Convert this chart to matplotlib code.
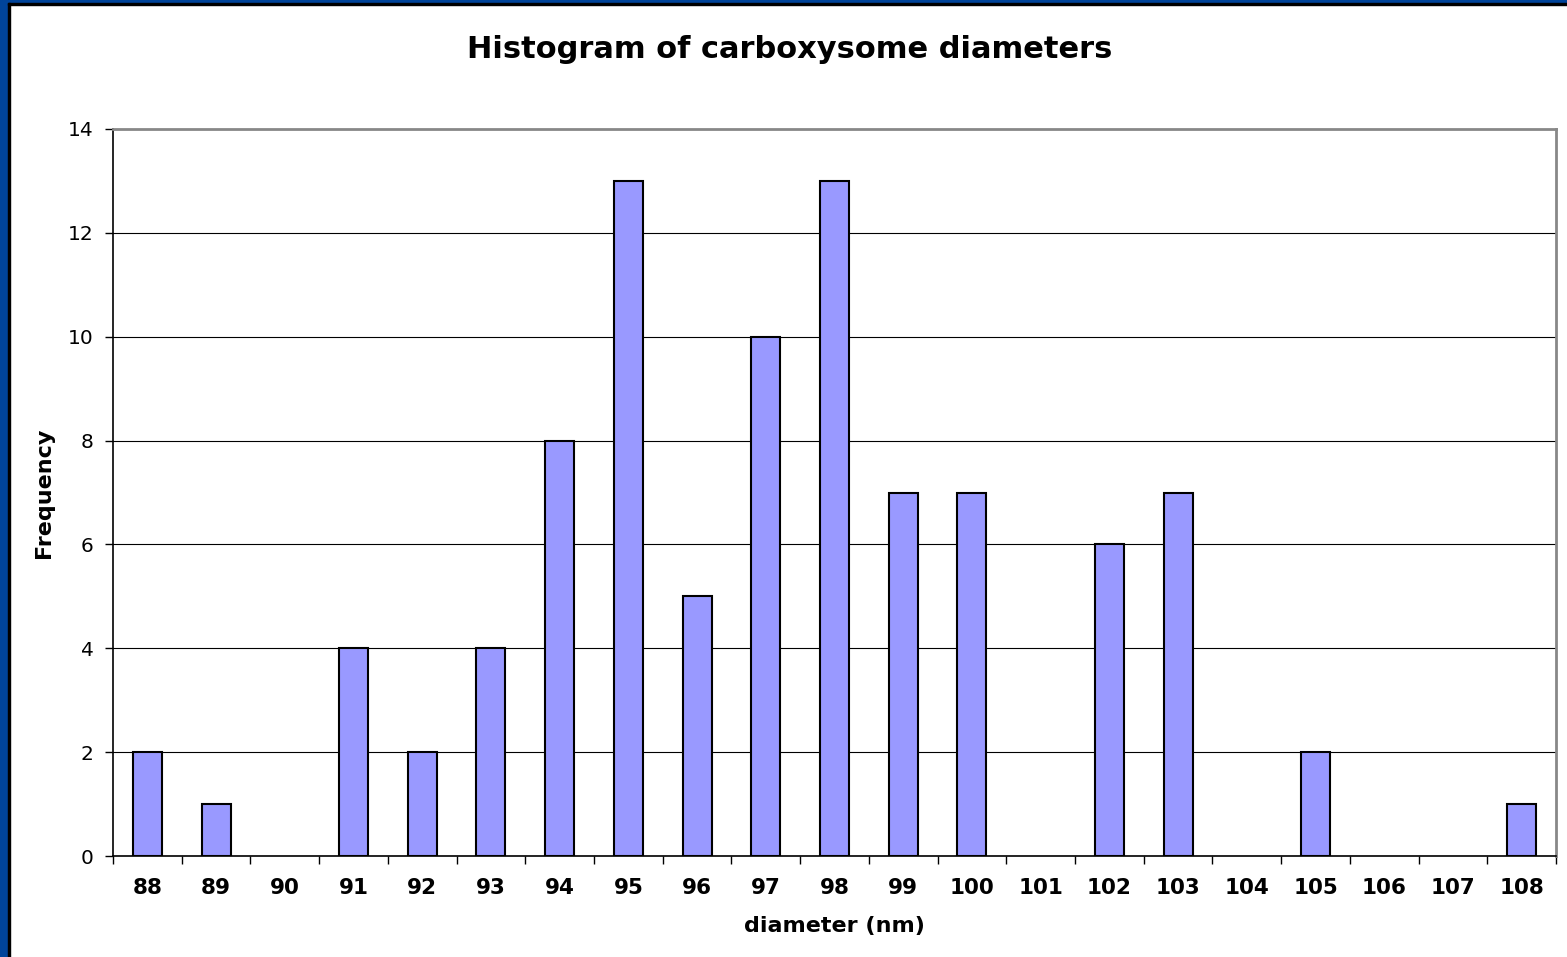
import matplotlib
matplotlib.use("Agg")
import matplotlib.pyplot as plt
from matplotlib.patches import Rectangle
import numpy as np

diameters = ["88", "89", "90", "91", "92", "93", "94", "95", "96", "97", "98",
             "99", "100", "101", "102", "103", "104", "105", "106", "107", "108"]
frequency = [2, 1, 0, 4, 2, 4, 8, 13, 5, 10, 13, 7, 7, 0, 6, 7, 0, 2, 0, 0, 1]
y_ticks = [0, 2, 4, 6, 8, 10, 12, 14]

W, H = 1567, 957
fig = plt.figure(figsize=(W / 100, H / 100), dpi=100)
fig.patch.set_facecolor("white")

# frame border (left + top)
blue = "#00449A"
fig.patches.append(Rectangle((0, 0), 8 / W, 1, transform=fig.transFigure, color=blue, zorder=0))
fig.patches.append(Rectangle((0, 1 - 3 / H), 1, 3 / H, transform=fig.transFigure, color=blue, zorder=0))
fig.patches.append(Rectangle((8 / W, 0), 2 / W, 1 - 3 / H, transform=fig.transFigure, color="black", zorder=0))
fig.patches.append(Rectangle((8 / W, 1 - 5 / H), 1, 2 / H, transform=fig.transFigure, color="black", zorder=0))

left, right, top, bottom = 113, 1556, 129, 856
ax = fig.add_axes([left / W, 1 - bottom / H, (right - left) / W, (bottom - top) / H])

x = np.arange(len(diameters))
lw = [1.5 if v > 0 else 0 for v in frequency]
ax.bar(x, frequency, width=0.42, color="#9999FF", edgecolor="black", linewidth=lw, zorder=3)

ax.set_xlim(-0.5, len(diameters) - 0.5)
ax.set_ylim(0, 14)
ax.set_yticks(y_ticks)
ax.set_yticklabels([str(v) for v in y_ticks], fontsize=14.5)
ax.set_xticks(x)
ax.set_xticklabels(diameters, fontsize=15.5, fontweight="bold")
ax.tick_params(axis="x", length=0, pad=16)
ax.set_xticks(np.arange(-0.5, len(diameters), 1), minor=True)
ax.tick_params(axis="x", which="minor", length=6, width=1, direction="out", color="black")
ax.tick_params(axis="y", length=6, width=1, direction="out", pad=8)

ax.yaxis.grid(True, color="black", linewidth=0.8, zorder=0)
ax.set_axisbelow(True)
for s in ["top", "right"]:
    ax.spines[s].set_color("#888888")
    ax.spines[s].set_linewidth(2)
for s in ["left", "bottom"]:
    ax.spines[s].set_color("black")
    ax.spines[s].set_linewidth(1.2)

ax.set_xlabel("diameter (nm)", fontsize=16, fontweight="bold", labelpad=13)
ax.set_ylabel("Frequency", fontsize=16, fontweight="bold", labelpad=10)
fig.text(790 / W, 1 - 50 / H, "Histogram of carboxysome diameters", fontsize=22,
         fontweight="bold", ha="center", va="center")

fig.savefig("out.png", dpi=100)
